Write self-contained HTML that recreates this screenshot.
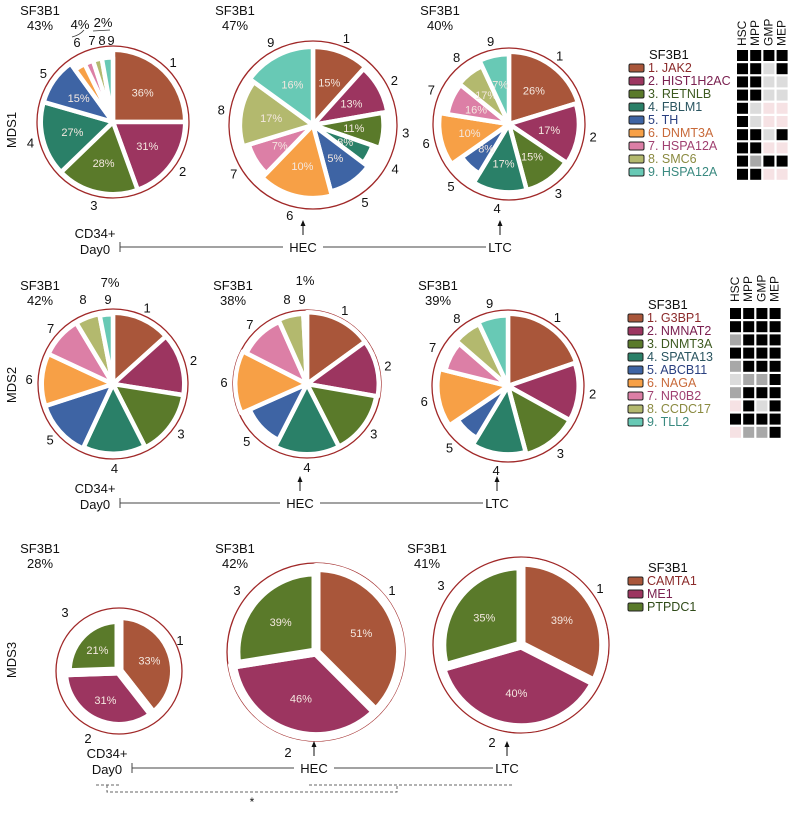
<!DOCTYPE html>
<html><head><meta charset="utf-8"><style>
html,body{margin:0;padding:0;background:#fff}
svg{display:block;font-family:"Liberation Sans",Arial,sans-serif}
</style></head><body>
<svg id="fig" width="788" height="814" viewBox="0 0 788 814">
<g id="static" fill="#111" font-size="12">
<text x="16" y="130" transform="rotate(-90 16 130)" text-anchor="middle" font-size="13">MDS1</text>
<text x="16" y="385" transform="rotate(-90 16 385)" text-anchor="middle" font-size="13">MDS2</text>
<text x="16" y="660" transform="rotate(-90 16 660)" text-anchor="middle" font-size="13">MDS3</text>
</g>
<g id="dyn"></g>
</svg>
<script>
const C=["#a9563a","#9c3560","#5a7a2a","#2a8068","#3e64a4","#f7a046","#dc7fa6","#b3b96e","#68c9b5"];
const C3=["#a9563a","#9c3560","#5a7a2a"];
// slice angular widths (degrees)
const mds1aShares=[90,70,66,60,38,10,8,8,10];
const mds1bShares=[42,38,29,18,38,59,29,53,54];
const mds1cShares=[73,51,41,46,24,44,30,26,25];
const mds2aShares=[48,51,54,52,47,43,34,20,11];
const mds2bShares=[54,46,53,54,39,51,39,21,3];
const mds2cShares=[71,48,46,46,25,48,27,24,25];
const mds3aShares=[142,126,92];
const mds3bShares=[135,126,99];
const mds3cShares=[117,137,106];
// relative slice depth
const mds1aDepth=[0.95,0.95,0.95,0.95,0.95,0.85,0.85,0.85,0.85];
const mds1bDepth=[0.93,0.9,0.84,0.75,0.82,0.87,0.8,0.87,0.93];
const mds1cDepth=[0.95,0.92,0.9,0.9,0.76,0.92,0.82,0.84,0.92];
const mds2aDepth=[0.95,0.95,0.95,0.93,0.95,0.95,0.95,0.95,0.93];
const mds2bDepth=[0.97,0.97,0.95,0.95,0.85,0.97,0.92,0.95,0.95];
const mds2cDepth=[0.95,0.93,0.93,0.9,0.8,0.93,0.85,0.9,0.93];
const mds3aDepth=[0.88,0.88,0.82];
const mds3bDepth=[0.95,0.95,0.9];
const mds3cDepth=[0.94,0.94,0.9];
// printed VAF labels
const mds1aPct=["36%","31%","28%","27%","15%","","","",""];
const mds1bPct=["15%","13%","11%","8%","5%","10%","7%","17%","16%"];
const mds1cPct=["26%","17%","15%","17%","8%","10%","16%","17%","7%"];
const mds3aPct=["33%","31%","21%"];
const mds3bPct=["51%","46%","39%"];
const mds3cPct=["39%","40%","35%"];
const sf3b1Vals=["43%","47%","40%","42%","38%","39%","28%","42%","41%"];
const mds1Genes=["1. JAK2","2. HIST1H2AC","3. RETNLB","4. FBLM1","5. TH","6. DNMT3A","7. HSPA12A","8. SMC6","9. HSPA12A"];
const mds2Genes=["1. G3BP1","2. NMNAT2","3. DNMT3A","4. SPATA13","5. ABCB11","6. NAGA","7. NR0B2","8. CCDC17","9. TLL2"];
const mds3Genes=["CAMTA1","ME1","PTPDC1"];
const txtCol=["#8b2a2a","#7a2050","#3d5a20","#2a5560","#2a4080","#c86a3a","#a04070","#8a8a40","#3a8a80"];
const cellCols=["HSC","MPP","GMP","MEP"];
// heatmap codes: 1 black, m mid gray, g light gray, p pink
const mds1Heat=["1111","11g1","11gg","11gg","1gpp","1gpp","11g1","11pp","1m11","11pp"];
const mds2Heat=["1111","1111","m111","1111","m111","gmm1","m111","p1g1","1111","pmm1"];
const heatFill={"1":"#000","m":"#a8a8a8","g":"#dcdcdc","p":"#f6e2e4"};

const NS="http://www.w3.org/2000/svg";
const root=document.getElementById("dyn");
function mk(tag,attrs,parent){const e=document.createElementNS(NS,tag);for(const k in attrs)e.setAttribute(k,attrs[k]);(parent||root).appendChild(e);return e;}
function txt(x,y,s,size,fill,anchor,parent){const t=mk("text",{x:x,y:y,"font-size":size,fill:fill||"#111","text-anchor":anchor||"start"},parent);t.textContent=s;return t;}
function pt(cx,cy,r,deg){const a=(deg-90)*Math.PI/180;return [cx+r*Math.cos(a),cy+r*Math.sin(a)];}

function pie(name,cx,cy,R,shares,depth,cols,pcts,labelOverride,gap){
  const g=mk("g",{});
  
  
  const ring=mk("circle",{cx:cx,cy:cy,r:R,fill:"none",stroke:"#a02828","stroke-width":1.3},g);
  
  
  const tot=shares.reduce((a,b)=>a+b,0);
  let a0=0;
  shares.forEach((s,i)=>{
    const a1=a0+s/tot*360, r=R*depth[i];
    const p0=pt(cx,cy,r,a0),p1=pt(cx,cy,r,a1);
    const large=(a1-a0)>180?1:0;
    const w=mk("path",{d:`M${cx},${cy}L${p0[0]},${p0[1]}A${r},${r} 0 ${large} 1 ${p1[0]},${p1[1]}Z`,fill:cols[i],stroke:"#fff","stroke-width":gap||4.5,"stroke-linejoin":"round"},g);
    
    
    const mid=(a0+a1)/2;
    if(pcts&&pcts[i]){const q=pt(cx,cy,r*0.58,mid);const t=txt(q[0],q[1]+4,pcts[i],11,"#f4e8e0","middle",g);
      
      }
    let lp=pt(cx,cy,R+9,mid);
    if(labelOverride&&labelOverride[i])lp=labelOverride[i];
    const l=txt(lp[0],lp[1]+5,String(i+1),13,"#111","middle",g);
    
    
    a0=a1;
  });
}
function sfLabel(x,y,v){const t1=txt(x,y,"SF3B1",13,"#111","middle");
  const t2=txt(x,y+15,v,13,"#111","middle");}

// MDS1
pie("mds1-day0-pie",113,122,76,mds1aShares,mds1aDepth,C,mds1aPct,{5:[77,42],6:[92,40],7:[102,40],8:[111,40]});
pie("mds1-hec-pie",313,125,84,mds1bShares,mds1bDepth,C,mds1bPct);
pie("mds1-ltc-pie",509,124,76,mds1cShares,mds1cDepth,C,mds1cPct);
sfLabel(40,15,sf3b1Vals[0]);sfLabel(235,15,sf3b1Vals[1]);sfLabel(440,15,sf3b1Vals[2]);
txt(80,29,"4%",13,"#111","middle");txt(103,27,"2%",13,"#111","middle");
mk("path",{d:"M72,37 Q80,35 84,30",fill:"none",stroke:"#333","stroke-width":0.8});
mk("path",{d:"M93,31 L110,30",fill:"none",stroke:"#333","stroke-width":0.8});
// MDS2
pie("mds2-day0-pie",113,384,75,mds2aShares,mds2aDepth,C,null,{7:[83,299],8:[108,299]});
pie("mds2-hec-pie",307,384,74,mds2bShares,mds2bDepth,C,null,{7:[287,299],8:[302,299]});
pie("mds2-ltc-pie",508,386,76,mds2cShares,mds2cDepth,C,null);
sfLabel(40,290,sf3b1Vals[3]);sfLabel(233,290,sf3b1Vals[4]);sfLabel(438,290,sf3b1Vals[5]);
txt(110,287,"7%",13,"#111","middle");txt(305,285,"1%",13,"#111","middle");
// MDS3
pie("mds3-day0-pie",119,671,63,mds3aShares,mds3aDepth,C3,mds3aPct,{0:[180,640],1:[88,738],2:[65,612]},9);
pie("mds3-hec-pie",316,652,89,mds3bShares,mds3bDepth,C3,mds3bPct,{0:[392,590],1:[288,752],2:[237,590]},9);
pie("mds3-ltc-pie",521,645,88,mds3cShares,mds3cDepth,C3,mds3cPct,{0:[600,588],1:[492,742],2:[441,585]},9);
sfLabel(40,553,sf3b1Vals[6]);sfLabel(235,553,sf3b1Vals[7]);sfLabel(427,553,sf3b1Vals[8]);

// timelines
function timeline(name,y,x0,xh,xl,yc){
  const g=mk("g",{});
  
  
  txt(x0-25,yc-5,"CD34+",13,"#111","middle",g);txt(x0-25,yc+11,"Day0",13,"#111","middle",g);
  mk("line",{x1:x0,y1:y-5,x2:x0,y2:y+5,stroke:"#444","stroke-width":1},g);
  mk("line",{x1:x0,y1:y,x2:xh-20,y2:y,stroke:"#444","stroke-width":1},g);
  mk("line",{x1:xh+20,y1:y,x2:xl-14,y2:y,stroke:"#444","stroke-width":1},g);
  txt(xh,y+5,"HEC",13,"#111","middle",g);txt(xl,y+5,"LTC",13,"#111","middle",g);
  [xh,xl].forEach(x=>{mk("line",{x1:x,y1:y-12,x2:x,y2:y-24,stroke:"#111","stroke-width":1},g);
    mk("path",{d:`M${x-2.5},${y-21}L${x},${y-27}L${x+2.5},${y-21}Z`,fill:"#111"},g);});
}
timeline("mds1-timeline",247,120,303,500,243);
timeline("mds2-timeline",503,120,300,497,498);
timeline("mds3-timeline",768,132,314,507,763);
const dash={fill:"none",stroke:"#666","stroke-width":1,"stroke-dasharray":"3,2"};
mk("path",Object.assign({d:"M96,785 H120 M107,785 V792 H397 V785 M309,785 H512"},dash));
txt(252,806,"*",12,"#111","middle");

// legends
function legend(name,x,y,genes,cols,tcols,step){
  const g=mk("g",{});
  
  
  txt(x+20,y,"SF3B1",13,"#111","start",g);
  genes.forEach((s,i)=>{const yy=y+13+i*step;
    const r=mk("rect",{x:x,y:yy-8,width:15,height:8,fill:cols[i],stroke:"#222","stroke-width":1,rx:1.5},g);
    
    
    const t=txt(x+19,yy,s,12.5,tcols[i],"start",g);
    
    });
}
legend("mds1-legend",629,59,mds1Genes,C,txtCol,13);
legend("mds2-legend",628,309,mds2Genes,C,txtCol,13);
legend("mds3-legend",628,572,mds3Genes,C3,["#8b2a2a","#7a2050","#2f4a18"],13);

function heat(name,x0,y0,rows,hdrY){
  const g=mk("g",{});
  
  
  cellCols.forEach((c,j)=>{const x=x0+j*13.2+9;const t=txt(x,hdrY,c,12,"#111","start",g);
    t.setAttribute('transform',`rotate(-90 ${x} ${hdrY})`);
    
    });
  rows.forEach((row,i)=>{row.split("").forEach((v,j)=>{
    const r=mk("rect",{x:x0+j*13.2,y:y0+i*13.2,width:11,height:11,fill:heatFill[v]},g);
    
    });});
}
heat("mds1-heatmap",737,50,mds1Heat,46);
heat("mds2-heatmap",730,308,mds2Heat,302);
</script>
</body></html>
